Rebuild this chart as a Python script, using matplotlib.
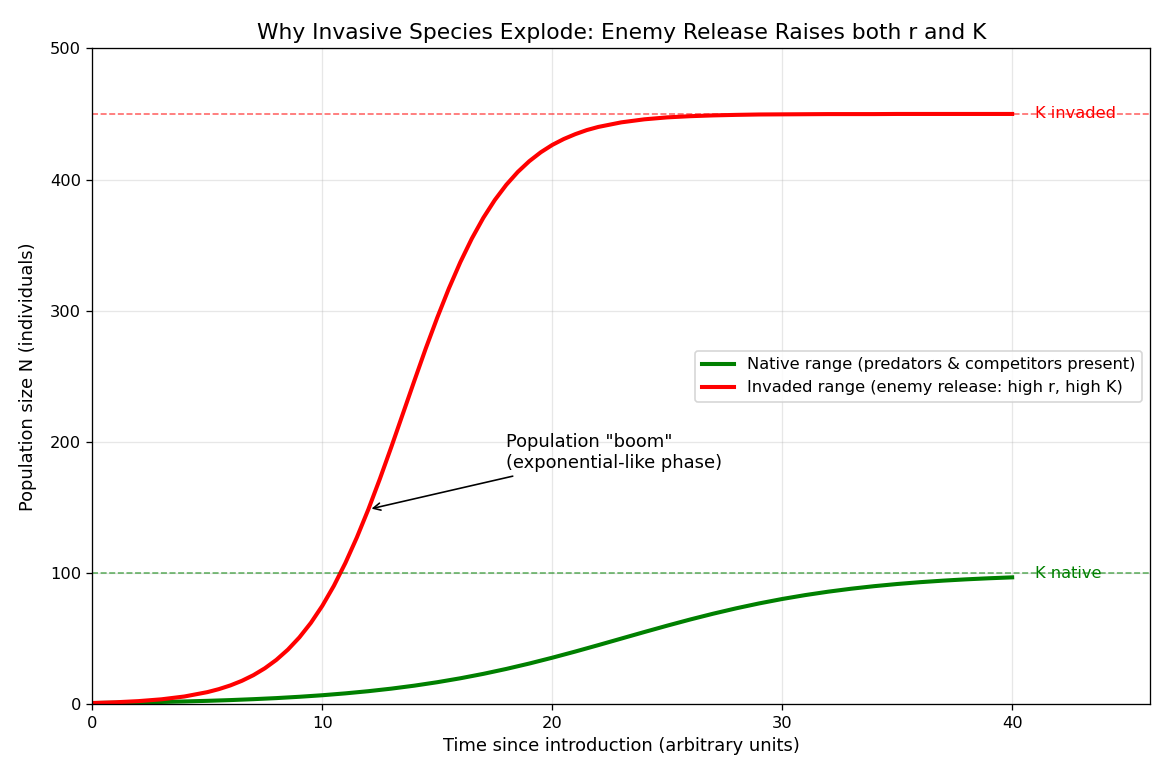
import matplotlib
matplotlib.use('Agg')
import matplotlib.pyplot as plt

# time points and population sizes
t_native = list(range(0, 41))
n_native = [1.0, 1.22, 1.49, 1.81, 2.20, 2.67, 3.24, 3.94, 4.76, 5.76,
            6.94, 8.36, 10.02, 11.97, 14.24, 16.87, 19.86, 23.23, 26.99, 31.10,
            35.55, 40.24, 45.13, 50.12, 55.10, 59.98, 64.68, 69.10, 73.20, 76.94,
            80.30, 83.27, 85.87, 88.13, 90.07, 91.72, 93.12, 94.29, 95.28, 96.10,
            96.79]

t_invaded = [0, 1, 2, 3, 4, 5, 5.5, 6, 6.5, 7, 7.5, 8, 8.5, 9, 9.5, 10, 10.5,
             11, 11.5, 12, 12.5, 13, 13.5, 14, 14.5, 15, 15.5, 16, 16.5, 17,
             17.5, 18, 18.5, 19, 19.5, 20, 20.5, 21, 21.5, 22, 23, 24, 25, 26,
             27, 28, 29, 30, 31, 32, 33, 34, 35, 36, 37, 38, 39, 40]
n_invaded = [1.0, 1.57, 2.45, 3.83, 5.98, 9.31, 11.60, 14.43, 17.93, 22.23,
             27.50, 33.91, 41.69, 51.01, 62.10, 75.15, 90.31, 107.7, 127.2, 148.6,
             171.8, 196.2, 221.4, 246.6, 271.4, 294.9, 316.9, 337.0, 355.0, 370.8,
             384.4, 396.0, 405.8, 414.0, 420.8, 426.4, 430.9, 434.6, 437.7, 440.1,
             443.6, 445.9, 447.4, 448.3, 448.9, 449.3, 449.6, 449.7, 449.8, 449.9,
             449.9, 449.9, 450.0, 450.0, 450.0, 450.0, 450.0, 450.0]

K_NATIVE = 100
K_INVADED = 450
BOOM_T = 12
BOOM_N = 148.6

fig, ax = plt.subplots(figsize=(10, 6.6667), dpi=117)
fig.subplots_adjust(left=0.079, right=0.983, top=0.938, bottom=0.097)

ax.plot(t_native, n_native, color='green', linewidth=2.5,
        label='Native range (predators & competitors present)')
ax.plot(t_invaded, n_invaded, color='red', linewidth=2.5,
        label='Invaded range (enemy release: high r, high K)')

ax.axhline(K_NATIVE, color='green', linestyle='--', linewidth=1, alpha=0.6)
ax.axhline(K_INVADED, color='red', linestyle='--', linewidth=1, alpha=0.6)
ax.text(41, K_NATIVE, 'K native', color='green', va='center', fontsize=10)
ax.text(41, K_INVADED, 'K invaded', color='red', va='center', fontsize=10)

ax.annotate('Population "boom"\n(exponential-like phase)',
            xy=(BOOM_T, BOOM_N), xytext=(18, 180), fontsize=11,
            arrowprops=dict(arrowstyle='->', color='black', lw=1))

ax.set_xlim(0, 46)
ax.set_ylim(0, 500)
ax.set_xlabel('Time since introduction (arbitrary units)', fontsize=11)
ax.set_ylabel('Population size N (individuals)', fontsize=11, labelpad=8)
ax.set_title('Why Invasive Species Explode: Enemy Release Raises both r and K', fontsize=13.4)
ax.grid(True, alpha=0.3)
ax.legend(loc='center right', fontsize=10)

plt.savefig('out.png', dpi=117)
